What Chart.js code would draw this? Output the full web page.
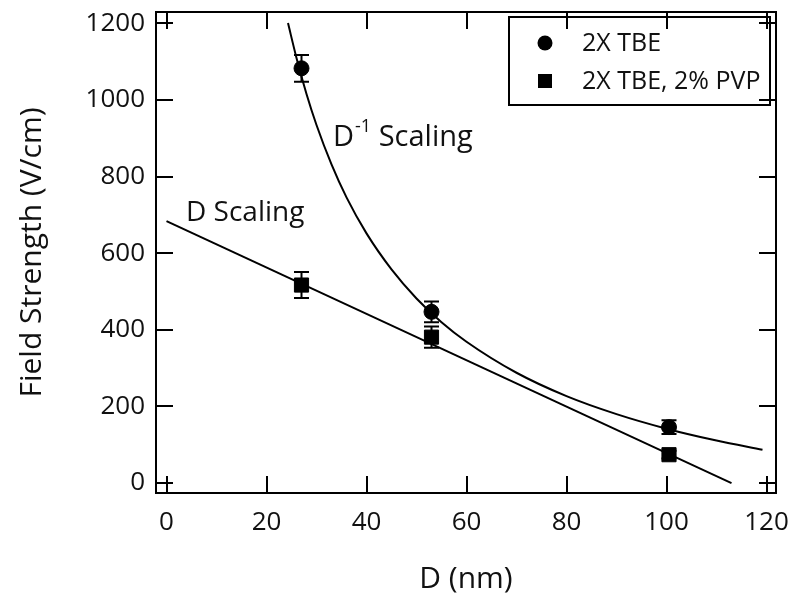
<!DOCTYPE html>
<html>
<head>
<meta charset="utf-8">
<script src="https://cdn.jsdelivr.net/npm/chart.js@4.4.0/dist/chart.umd.min.js"></script>
<style>
  html, body { margin: 0; padding: 0; background: #fff; }
</style>
</head>
<body>
<canvas id="myChart" width="800" height="613"></canvas>
<script>
// measured points (D in nm, field strength in V/cm)
var dValues = [27, 53, 100.5];
var tbeValues = [1083, 447, 146];
var tbeErr = [35, 27, 18];
var pvpValues = [517, 381, 74];
var pvpErr = [34, 28, 10];

// "D Scaling" straight fit
var lineX = [0, 113];
var lineY = [684, 0];

// "D^-1 Scaling" curve
var curveX = [24.3, 26, 28, 30, 33, 36, 40, 45, 50, 55, 60, 70, 80, 90, 100, 110, 119.2];
var curveY = [1201, 1110, 1016, 935, 832, 746, 652, 558, 482, 420, 369, 288, 227, 180, 142, 111, 87];

var xTicks = [0, 20, 40, 60, 80, 100, 120];
var yTicks = [0, 200, 400, 600, 800, 1000, 1200];

var seriesNames = ["2X TBE", "2X TBE, 2% PVP"];

var fontFam = "'Open Sans', 'Noto Sans', sans-serif";
var ink = "#111";

function pts(xs, ys) { return xs.map((x, i) => ({x: x, y: ys[i]})); }

// frame + inward ticks on all four sides
var framePlugin = {
  id: 'frame',
  afterDraw(chart) {
    var ctx = chart.ctx, a = chart.chartArea;
    var xs = chart.scales.x, ys = chart.scales.y;
    var tl = 17;
    ctx.save();
    ctx.strokeStyle = '#000';
    ctx.lineWidth = 2;
    ctx.strokeRect(a.left, a.top, a.right - a.left, a.bottom - a.top);
    ctx.beginPath();
    xTicks.forEach(v => {
      var px = Math.round(xs.getPixelForValue(v));
      ctx.moveTo(px, a.bottom); ctx.lineTo(px, a.bottom - tl);
      ctx.moveTo(px, a.top); ctx.lineTo(px, a.top + tl);
    });
    yTicks.forEach(v => {
      var py = Math.round(ys.getPixelForValue(v));
      ctx.moveTo(a.left, py); ctx.lineTo(a.left + tl, py);
      ctx.moveTo(a.right, py); ctx.lineTo(a.right - tl, py);
    });
    ctx.stroke();
    ctx.restore();
  }
};

// vertical error bars with caps
var errPlugin = {
  id: 'errbars',
  afterDatasetsDraw(chart) {
    var ctx = chart.ctx, xs = chart.scales.x, ys = chart.scales.y;
    var sets = [[tbeValues, tbeErr], [pvpValues, pvpErr]];
    ctx.save();
    ctx.strokeStyle = '#000';
    ctx.lineWidth = 2;
    sets.forEach(s => {
      dValues.forEach((d, i) => {
        var px = xs.getPixelForValue(d);
        var top = ys.getPixelForValue(s[0][i] + s[1][i]);
        var bot = ys.getPixelForValue(s[0][i] - s[1][i]);
        ctx.beginPath();
        ctx.moveTo(px, top); ctx.lineTo(px, bot);
        ctx.moveTo(px - 7.5, top); ctx.lineTo(px + 7.5, top);
        ctx.moveTo(px - 7.5, bot); ctx.lineTo(px + 7.5, bot);
        ctx.stroke();
      });
    });
    ctx.restore();
  }
};

// text labels for the two fits
var notePlugin = {
  id: 'notes',
  afterDraw(chart) {
    var ctx = chart.ctx, xs = chart.scales.x, ys = chart.scales.y;
    ctx.save();
    ctx.fillStyle = ink;
    ctx.textBaseline = 'alphabetic';
    ctx.font = '28px ' + fontFam;
    ctx.fillText('D Scaling', xs.getPixelForValue(3.9), ys.getPixelForValue(685));
    var x0 = xs.getPixelForValue(33.3), y0 = ys.getPixelForValue(880);
    ctx.font = '29px ' + fontFam;
    ctx.fillText('D', x0, y0);
    var w = ctx.measureText('D').width;
    ctx.font = '18px ' + fontFam;
    ctx.fillText('-1', x0 + w + 1, y0 - 14);
    var w2 = ctx.measureText('-1').width;
    ctx.font = '29px ' + fontFam;
    ctx.fillText(' Scaling', x0 + w + w2 + 1, y0);
    ctx.restore();
  }
};

// boxed legend in the top right corner
var legendPlugin = {
  id: 'boxLegend',
  afterDraw(chart) {
    var ctx = chart.ctx;
    ctx.save();
    ctx.strokeStyle = '#000';
    ctx.lineWidth = 2;
    ctx.strokeRect(509, 17, 261, 88);
    ctx.fillStyle = '#000';
    ctx.beginPath();
    ctx.arc(545, 43, 7.5, 0, Math.PI * 2);
    ctx.fill();
    ctx.fillRect(538, 74, 14, 14);
    ctx.fillStyle = ink;
    ctx.font = '25px ' + fontFam;
    ctx.textBaseline = 'middle';
    ctx.fillText(seriesNames[0], 582, 44);
    ctx.fillText(seriesNames[1], 582, 82);
    ctx.restore();
  }
};

new Chart("myChart", {
  type: "scatter",
  data: {
    datasets: [
      {
        label: "D Scaling",
        type: "line",
        data: pts(lineX, lineY),
        borderColor: "#000",
        borderWidth: 2,
        pointRadius: 0,
        fill: false
      },
      {
        label: "D-1 Scaling",
        type: "line",
        data: pts(curveX, curveY),
        borderColor: "#000",
        borderWidth: 2,
        pointRadius: 0,
        cubicInterpolationMode: "monotone",
        fill: false
      },
      {
        label: seriesNames[0],
        data: pts(dValues, tbeValues),
        pointStyle: "circle",
        pointRadius: 7.5,
        backgroundColor: "#000",
        borderColor: "#000"
      },
      {
        label: seriesNames[1],
        data: pts(dValues, pvpValues),
        pointStyle: "rect",
        pointRadius: 10,
        backgroundColor: "#000",
        borderColor: "#000"
      }
    ]
  },
  options: {
    responsive: false,
    animation: false,
    layout: { padding: { left: 0, right: 24, top: 12, bottom: 0 } },
    plugins: {
      legend: { display: false },
      tooltip: { enabled: false }
    },
    scales: {
      x: {
        type: "linear",
        min: -2.1,
        max: 121.9,
        afterBuildTicks: s => { s.ticks = xTicks.map(v => ({value: v})); },
        afterFit: s => { s.height = 120; s.paddingLeft = 0; s.paddingRight = 0; },
        grid: { display: false, drawTicks: false },
        border: { display: false },
        ticks: { padding: 14, color: ink, font: { family: fontFam, size: 26 },
                 callback: v => String(v) },
        title: { display: true, text: "D (nm)", color: ink, padding: { top: 0, bottom: 16 },
                 font: { family: fontFam, size: 30 } }
      },
      y: {
        type: "linear",
        min: -26,
        max: 1230,
        afterBuildTicks: s => { s.ticks = yTicks.map(v => ({value: v})); },
        afterFit: s => { s.width = 156; s.paddingTop = 0; s.paddingBottom = 0; },
        grid: { display: false, drawTicks: false },
        border: { display: false },
        ticks: { padding: 11, color: ink, font: { family: fontFam, size: 26 },
                 callback: v => String(v) },
        title: { display: true, text: "Field Strength (V/cm)", color: ink, padding: { top: 14, bottom: 14 },
                 font: { family: fontFam, size: 30 } }
      }
    }
  },
  plugins: [framePlugin, errPlugin, notePlugin, legendPlugin]
});
</script>
</body>
</html>
